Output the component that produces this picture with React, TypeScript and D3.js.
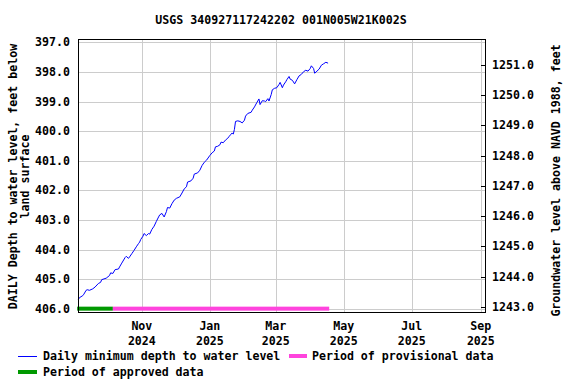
import React from "react";
import * as d3 from "d3";

const TITLE = "USGS 340927117242202 001N005W21K002S";
const dates = [
  "2024-09-05","2024-09-06","2024-09-09","2024-09-10","2024-09-12","2024-09-13","2024-09-15","2024-09-18","2024-09-20","2024-09-23",
  "2024-09-25","2024-09-26","2024-09-30","2024-10-03","2024-10-04","2024-10-06","2024-10-08","2024-10-11","2024-10-12","2024-10-14",
  "2024-10-17","2024-10-18","2024-10-20","2024-10-21","2024-10-23","2024-10-25","2024-10-27","2024-10-29","2024-10-30","2024-10-31",
  "2024-11-02","2024-11-03","2024-11-05","2024-11-07","2024-11-08","2024-11-10","2024-11-12","2024-11-14","2024-11-16","2024-11-17",
  "2024-11-19","2024-11-21","2024-11-23","2024-11-24","2024-11-26","2024-11-28","2024-11-30","2024-12-02","2024-12-05","2024-12-07",
  "2024-12-09","2024-12-11","2024-12-12","2024-12-15","2024-12-17","2024-12-18","2024-12-21","2024-12-23","2024-12-25","2024-12-27",
  "2024-12-29","2025-01-01","2025-01-03","2025-01-05","2025-01-06","2025-01-08","2025-01-10","2025-01-11","2025-01-13","2025-01-15",
  "2025-01-17","2025-01-18","2025-01-20","2025-01-21","2025-01-22","2025-01-23","2025-01-24","2025-01-26","2025-01-28","2025-01-30",
  "2025-02-01","2025-02-02","2025-02-04","2025-02-07","2025-02-08","2025-02-10","2025-02-12","2025-02-14","2025-02-15","2025-02-17",
  "2025-02-19","2025-02-20","2025-02-22","2025-02-23","2025-02-25","2025-02-26","2025-02-28","2025-03-02","2025-03-04","2025-03-05",
  "2025-03-07","2025-03-08","2025-03-10","2025-03-11","2025-03-13","2025-03-14","2025-03-16","2025-03-18","2025-03-20","2025-03-22",
  "2025-03-24","2025-03-26","2025-03-28","2025-03-30","2025-04-01","2025-04-02","2025-04-04","2025-04-05","2025-04-07","2025-04-09",
  "2025-04-11","2025-04-13","2025-04-15","2025-04-17",
];
const depths = [
  405.69,405.63,405.56,405.51,405.38,405.36,405.38,405.33,405.27,405.15,
  405.11,405.02,404.97,404.88,404.79,404.81,404.68,404.66,404.59,404.46,
  404.27,404.23,404.30,404.25,404.14,404.03,403.91,403.80,403.75,403.66,
  403.55,403.46,403.53,403.46,403.48,403.32,403.21,403.05,402.90,402.83,
  402.78,402.90,402.72,402.58,402.60,402.45,402.33,402.27,402.22,402.09,
  401.95,401.88,401.72,401.68,401.59,401.45,401.41,401.32,401.16,401.05,
  400.98,400.82,400.73,400.67,400.53,400.51,400.46,400.37,400.39,400.30,
  400.24,400.19,400.10,400.06,400.10,399.94,399.67,399.65,399.67,399.72,
  399.63,399.49,399.40,399.36,399.29,399.18,399.04,398.91,399.10,398.97,
  398.98,399.00,398.90,398.98,398.76,398.60,398.55,398.53,398.42,398.35,
  398.53,398.44,398.33,398.26,398.15,398.24,398.28,398.40,398.26,398.13,
  398.08,397.99,397.94,397.97,397.88,397.79,397.88,398.04,397.97,397.90,
  397.77,397.72,397.67,397.70,
];
const approvedPeriod = ["2024-09-04", "2024-10-06"];
const provisionalPeriod = ["2024-10-06", "2025-04-18"];
const xDomain = ["2024-09-05", "2025-09-05"];
const monthTicks = ["2024-11-01", "2025-01-01", "2025-03-01", "2025-05-01", "2025-07-01", "2025-09-01"];
const leftTicks = [397, 398, 399, 400, 401, 402, 403, 404, 405, 406];
const rightTicks = [1243, 1244, 1245, 1246, 1247, 1248, 1249, 1250, 1251];
const leftDomain = [396.9, 406.13];
const rightDomain = [1251.83, 1242.82];

const FONT = "'DejaVu Sans Mono', monospace";
const FS = 11.6;

export default function App() {
  const parse = d3.utcParse("%Y-%m-%d");
  const L = 78, R = 485, T = 39, B = 312;
  const x = d3.scaleUtc().domain(xDomain.map((d) => parse(d)!)).range([L + 0.3, R + 0.3]);
  const y = d3.scaleLinear().domain(leftDomain).range([T + 0.5, B + 0.5]);
  const y2 = d3.scaleLinear().domain(rightDomain).range([T + 0.5, B + 0.5]);
  const data = dates.map((d, i) => ({ date: parse(d)!, v: depths[i] }));
  const line = d3.line<{ date: Date; v: number }>().x((d) => x(d.date)).y((d) => y(d.v));
  const fmtMon = d3.utcFormat("%b");
  const fmtYr = d3.utcFormat("%Y");
  const barY = y(406);
  const text = { fontFamily: FONT, fontSize: FS, fontWeight: "bold" as const, fill: "#000" };
  const cy = (T + B) / 2 + 1;

  return (
    <svg width={576} height={384} style={{ position: "absolute", left: 0, top: 0, background: "#fff" }}>
      <rect x={0} y={0} width={576} height={384} fill="#fff" />
      <text x={281} y={24} textAnchor="middle" {...text}>{TITLE}</text>
      {leftTicks.map((t) => (
        <line key={"h" + t} x1={L} x2={R} y1={Math.round(y(t)) + 0.5} y2={Math.round(y(t)) + 0.5} stroke="#cccccc" strokeWidth={1} />
      ))}
      {monthTicks.map((m) => {
        const xx = Math.round(x(parse(m)!)) + 0.5;
        return <line key={"v" + m} x1={xx} x2={xx} y1={T} y2={B} stroke="#cccccc" strokeWidth={1} />;
      })}
      <rect x={x(parse(approvedPeriod[0])!)} y={barY - 2} width={x(parse(approvedPeriod[1])!) - x(parse(approvedPeriod[0])!)} height={4} fill="#009900" />
      <rect x={x(parse(provisionalPeriod[0])!)} y={barY - 2} width={x(parse(provisionalPeriod[1])!) - x(parse(provisionalPeriod[0])!)} height={4} fill="#ff44dd" />
      <path d={line(data) || ""} fill="none" stroke="#0000ff" strokeWidth={1} />
      <rect x={L + 0.5} y={T + 0.5} width={R - L} height={B - T} fill="none" stroke="#000" strokeWidth={1} />
      {leftTicks.map((t) => (
        <text key={"lt" + t} x={70} y={y(t) + 4} textAnchor="end" {...text}>{t.toFixed(1)}</text>
      ))}
      {rightTicks.map((t) => (
        <g key={"rt" + t}>
          <line x1={R - 4} x2={R} y1={Math.round(y2(t)) + 0.5} y2={Math.round(y2(t)) + 0.5} stroke="#000" />
          <text x={492} y={y2(t) + 4} textAnchor="start" {...text}>{t.toFixed(1)}</text>
        </g>
      ))}
      {monthTicks.map((m) => {
        const xx = x(parse(m)!);
        return (
          <g key={"xl" + m}>
            <text x={xx} y={330} textAnchor="middle" {...text}>{fmtMon(parse(m)!)}</text>
            <text x={xx} y={345} textAnchor="middle" {...text}>{fmtYr(parse(m)!)}</text>
          </g>
        );
      })}
      <text transform={`translate(17,${cy}) rotate(-90)`} textAnchor="middle" {...text}>DAILY Depth to water level, feet below</text>
      <text transform={`translate(29,${cy}) rotate(-90)`} textAnchor="middle" {...text}>land surface</text>
      <text transform={`translate(560,${cy + 4}) rotate(-90)`} textAnchor="middle" {...text}>Groundwater level above NAVD 1988, feet</text>
      <line x1={18} x2={37} y1={356.5} y2={356.5} stroke="#0000ff" strokeWidth={1} />
      <text x={43} y={360} {...text}>Daily minimum depth to water level</text>
      <rect x={289} y={354} width={18} height={4} fill="#ff44dd" />
      <text x={312} y={360} {...text}>Period of provisional data</text>
      <rect x={18} y={370} width={19} height={4} fill="#009900" />
      <text x={43} y={376} {...text}>Period of approved data</text>
    </svg>
  );
}
